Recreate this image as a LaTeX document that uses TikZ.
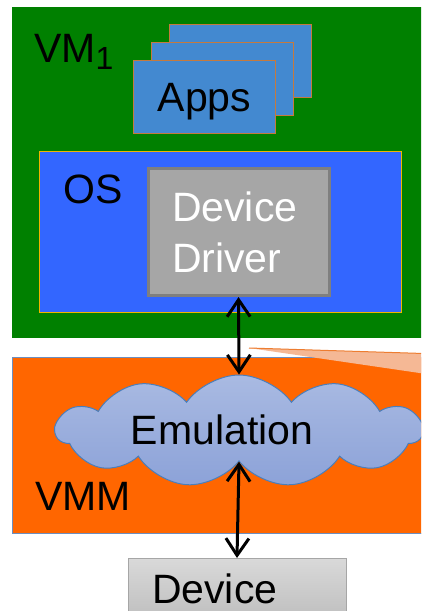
\documentclass[tikz,border=0pt]{standalone}
\usepackage{fontspec}
\setmainfont{Liberation Sans}
\usetikzlibrary{shapes.symbols,arrows.meta}
\definecolor{vmgreen}{HTML}{008000}
\definecolor{appblue}{HTML}{4389D0}
\definecolor{appborder}{HTML}{C57A3E}
\definecolor{osblue}{HTML}{3366FF}
\definecolor{osborder}{HTML}{F0B400}
\definecolor{ddgray}{HTML}{A6A6A6}
\definecolor{ddborder}{HTML}{7F7F7F}
\definecolor{vmmorange}{HTML}{FF6600}
\definecolor{vmmborder}{HTML}{6C8EBF}
\definecolor{calloutfill}{HTML}{F5B895}
\definecolor{calloutline}{HTML}{ED7D31}
\definecolor{cloudtop}{HTML}{A9BAE2}
\definecolor{cloudbot}{HTML}{8CA2D8}
\definecolor{cloudline}{HTML}{4A7EBB}
\definecolor{devtop}{HTML}{D9D9D9}
\definecolor{devbot}{HTML}{BFBFBF}
\begin{document}
\begin{tikzpicture}[x=1pt,y=-1pt,
  big/.style={font=\fontsize{41}{51}\selectfont},
  layerbox/.style={rectangle, inner sep=0pt, anchor=north west},
  appcard/.style={layerbox, fill=appblue, draw=appborder, line width=1pt,
    minimum width=142pt, minimum height=73pt},
  conn/.style={{Straight Barb[length=17pt,width=23pt]}-{Straight Barb[length=17pt,width=23pt]}, line width=3pt, black}]
\useasboundingbox (0,0) rectangle (421,611);
\clip (0,0) rectangle (421,611);
% VM
\node[layerbox, fill=vmgreen, minimum width=420pt, minimum height=331pt] (vm) at (12,7) {};
\node[big, anchor=base west, inner sep=0pt] (vmlabel) at (34,62) {VM\raisebox{-7pt}{\fontsize{32}{32}\selectfont 1}};
% Apps
\node[appcard] (app3) at (169,24) {};
\node[appcard] (app2) at (151,42) {};
\node[appcard, big, text depth=0pt] (app1) at (133,60) {Apps};
% OS
\node[layerbox, fill=osblue, draw=osborder, line width=1pt, minimum width=362pt, minimum height=161pt] (os) at (39,151) {};
\node[big, anchor=base west, inner sep=0pt] (oslabel) at (63,203) {OS};
\node[rectangle, fill=ddgray, draw=ddborder, line width=3pt, big, text=white,
  minimum height=127pt, text width=133pt, inner xsep=24pt, align=left] (dd) at (238.5,232) {Device\\Driver};
% VMM
\node[layerbox, fill=vmmorange, draw=vmmborder, line width=1pt, minimum width=420pt, minimum height=176pt] (vmm) at (12,357) {};
\coordinate (ctip) at (249,348);
\coordinate (ctop) at (440,354);
\coordinate (cbot) at (440,376);
\fill[calloutfill] (ctip) -- (ctop) -- (cbot) -- cycle;
\draw[calloutline, line width=1pt] (ctip) -- (ctop);
\node[cloud, cloud puffs=11, cloud puff arc=110, aspect=3.3, draw=cloudline, line width=1pt,
  top color=cloudtop, bottom color=cloudbot, minimum width=366pt, minimum height=112pt, inner sep=0pt] (emu) at (239,431) {};
\node[big, anchor=base, inner sep=0pt] (emutext) at (222,444) {Emulation};
\node[big, anchor=base west, inner sep=0pt] (vmmlabel) at (35,510) {VMM};
% Device
\node[rectangle, anchor=north, top color=devtop, bottom color=devbot, draw=ddgray, line width=1pt, big,
  text width=170pt, inner xsep=24pt, inner ysep=15pt, text depth=0pt, align=left] (dev) at (237,558) {Device};
% connectors
\draw[conn] (dd.south) -- (emu.north);
\draw[conn] (emu.south) -- (dev.north);
\end{tikzpicture}
\end{document}
